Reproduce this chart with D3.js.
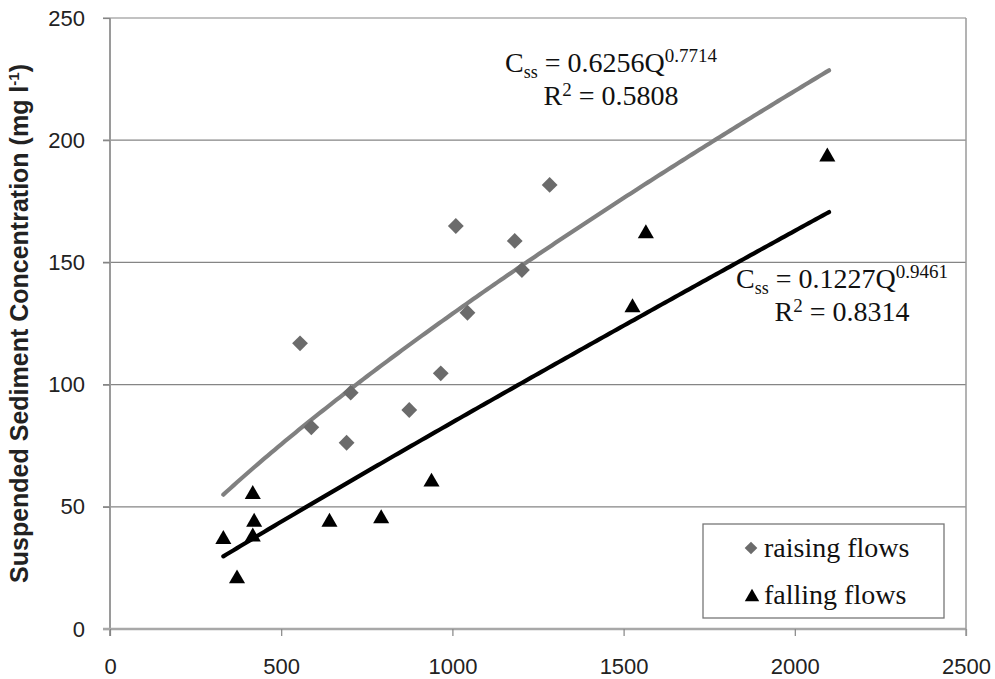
<!DOCTYPE html>
<html><head><meta charset="utf-8">
<script src="https://cdn.jsdelivr.net/npm/d3@7"></script>
<style>body{margin:0;background:#fff}</style>
</head><body>
<svg id="c" width="995" height="679"></svg>
<script>
// ---- data ----
const xTicks = [0, 500, 1000, 1500, 2000, 2500];
const yTicks = [0, 50, 100, 150, 200, 250];
const raisingQ = [555, 588, 691, 703, 874, 966, 1010, 1044, 1182, 1203, 1284];
const raisingC = [116.9, 82.5, 76.2, 96.7, 89.6, 104.6, 164.9, 129.4, 158.8, 146.9, 181.7];
const fallingQ = [331, 371, 417, 421, 417, 641, 792, 939, 1526, 1565, 2095];
const fallingC = [37.5, 21.4, 55.9, 44.6, 38.5, 44.6, 46.0, 61.0, 132.3, 162.6, 194.0];
const trendRange = [331, 2100];
const raisingFit = {a: 0.6256, b: 0.7714, r2: "0.5808"};
const fallingFit = {a: 0.1227, b: 0.9461, r2: "0.8314"};
const legendLabels = ["raising flows", "falling flows"];
const yLabel = "Suspended Sediment Concentration (mg l";

// ---- layout ----
const svg = d3.select("#c");
const L = 110, R = 966, T = 18, B = 629;
const x = d3.scaleLinear().domain([0, 2500]).range([L, R]);
const y = d3.scaleLinear().domain([0, 250]).range([B, T]);
const sans = "'Liberation Sans', Arial, sans-serif";
const serif = "'Liberation Serif', 'Times New Roman', serif";

// gridlines
svg.append("g").selectAll("line").data(yTicks.filter(d => d > 0)).join("line")
  .attr("x1", L - 7).attr("x2", R).attr("y1", d => y(d)).attr("y2", d => y(d))
  .attr("stroke", "#858585").attr("stroke-width", 1.2);

// y axis
const yAxis = svg.append("g").attr("transform", `translate(${L},0)`)
  .call(d3.axisLeft(y).tickValues(yTicks).tickSize(7).tickPadding(18));
yAxis.select(".domain").attr("stroke", "#9a9a9a").attr("stroke-width", 2)
  .attr("d", `M0,${T}V${B + 7}`);
yAxis.selectAll(".tick line").attr("stroke", "#858585").attr("stroke-width", 1.2);
yAxis.selectAll(".tick text").attr("font-family", sans).attr("font-size", 22).attr("fill", "#222");

// x axis
const xAxis = svg.append("g").attr("transform", `translate(0,${B})`)
  .call(d3.axisBottom(x).tickValues(xTicks).tickFormat(d3.format("d")).tickSize(7).tickPadding(22));
xAxis.select(".domain").attr("stroke", "#a8a8a8").attr("stroke-width", 2.5)
  .attr("d", `M${L - 7},0H${R}`);
xAxis.selectAll(".tick line").attr("stroke", "#858585").attr("stroke-width", 1.2);
xAxis.selectAll(".tick text").attr("font-family", sans).attr("font-size", 22).attr("fill", "#222");

// right border
svg.append("line").attr("x1", R).attr("x2", R).attr("y1", T).attr("y2", B + 7)
  .attr("stroke", "#9a9a9a").attr("stroke-width", 1.5);

// y label
const yl = svg.append("text").attr("transform", `translate(28,${(57 + 590) / 2}) rotate(-90)`)
  .attr("text-anchor", "middle").attr("font-family", sans).attr("font-weight", "bold")
  .attr("font-size", 25).attr("fill", "#222");
yl.append("tspan").text(yLabel);
yl.append("tspan").attr("font-size", 15).attr("dy", -9).text("-1");
yl.append("tspan").attr("dy", 9).text(")");

// trend lines
const line = d3.line().x(d => x(d[0])).y(d => y(d[1]));
function trend(fit) {
  return d3.range(trendRange[0], trendRange[1] + 1, 10).concat([trendRange[1]])
    .map(q => [q, fit.a * Math.pow(q, fit.b)]);
}
svg.append("path").attr("d", line(trend(raisingFit))).attr("fill", "none")
  .attr("stroke", "#808080").attr("stroke-width", 4.2).attr("stroke-linecap", "round");
svg.append("path").attr("d", line(trend(fallingFit))).attr("fill", "none")
  .attr("stroke", "#000").attr("stroke-width", 4.2).attr("stroke-linecap", "round");

// points
const diamond = d3.symbol().type(d3.symbolSquare).size(125)();
const tri = d3.symbol().type(d3.symbolTriangle).size(112)();
svg.append("g").selectAll("path").data(raisingQ.map((q, i) => [q, raisingC[i]])).join("path")
  .attr("d", diamond).attr("transform", d => `translate(${x(d[0])},${y(d[1])}) rotate(45)`)
  .attr("fill", "#6b6b6b");
svg.append("g").selectAll("path").data(fallingQ.map((q, i) => [q, fallingC[i]])).join("path")
  .attr("d", tri).attr("transform", d => `translate(${x(d[0])},${y(d[1]) + 2})`)
  .attr("fill", "#000");

// equations
function eq(cx, by, fit) {
  const t1 = svg.append("text").attr("x", cx).attr("y", by).attr("text-anchor", "middle")
    .attr("font-family", serif).attr("font-size", 28).attr("fill", "#111");
  t1.append("tspan").text("C");
  t1.append("tspan").attr("font-size", 18).attr("dy", 6).text("ss");
  t1.append("tspan").attr("dy", -6).text(` = ${fit.a}Q`);
  t1.append("tspan").attr("font-size", 19).attr("dy", -10).text(String(fit.b));
  const t2 = svg.append("text").attr("x", cx).attr("y", by + 33).attr("text-anchor", "middle")
    .attr("font-family", serif).attr("font-size", 28).attr("fill", "#111");
  t2.append("tspan").text("R");
  t2.append("tspan").attr("font-size", 19).attr("dy", -9).text("2");
  t2.append("tspan").attr("dy", 9).text(` = ${fit.r2}`);
}
eq(611, 72, raisingFit);
eq(842, 288, fallingFit);

// legend
svg.append("rect").attr("x", 703).attr("y", 524).attr("width", 241).attr("height", 94)
  .attr("fill", "#fff").attr("stroke", "#777").attr("stroke-width", 1.3);
const leg = svg.append("g");
leg.append("path").attr("d", d3.symbol().type(d3.symbolSquare).size(80)())
  .attr("transform", "translate(751,548) rotate(45)").attr("fill", "#6b6b6b");
leg.append("path").attr("d", d3.symbol().type(d3.symbolTriangle).size(90)())
  .attr("transform", "translate(752,597)").attr("fill", "#000");
leg.selectAll("text").data(legendLabels).join("text")
  .attr("x", 764).attr("y", (d, i) => 557 + i * 47)
  .attr("font-family", serif).attr("font-size", 28).attr("fill", "#111").text(d => d);
</script>
</body></html>
